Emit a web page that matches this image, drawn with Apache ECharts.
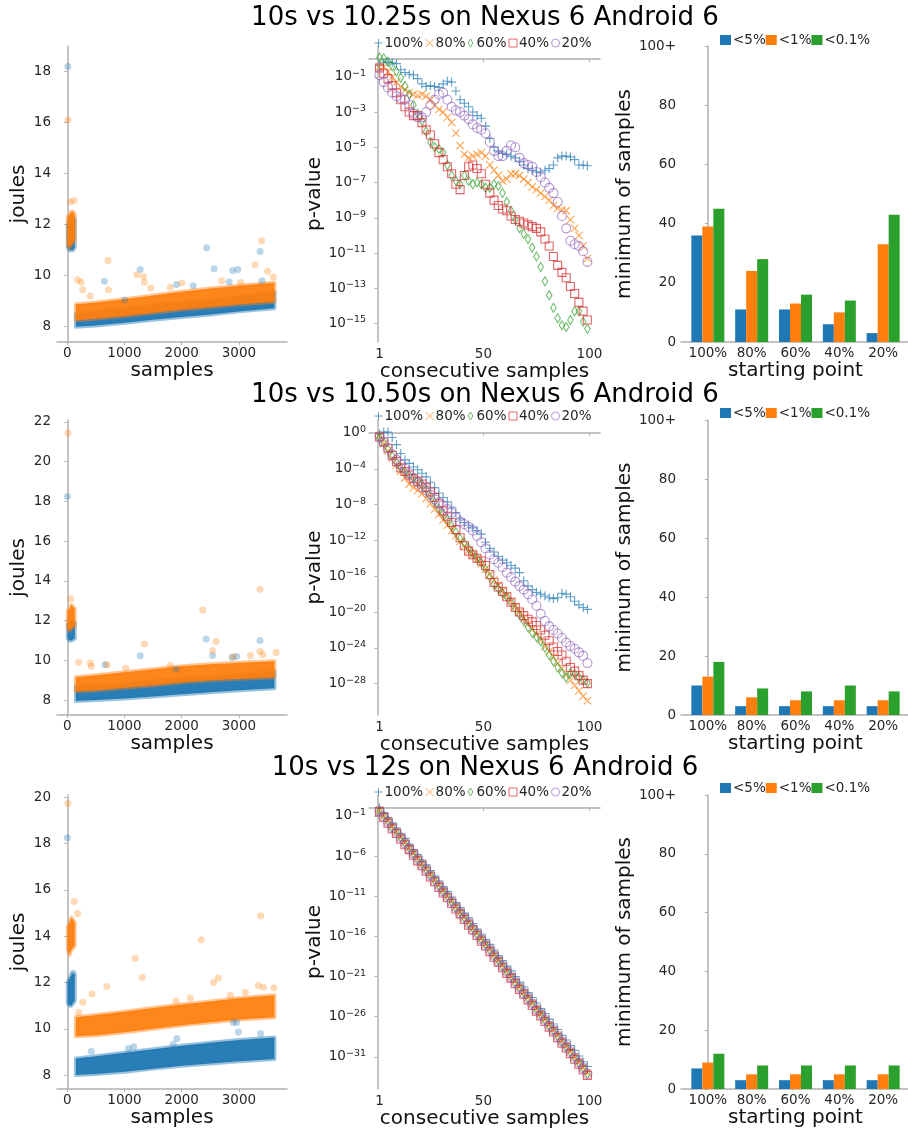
<!DOCTYPE html>
<html><head><meta charset="utf-8">
<script src="https://cdn.jsdelivr.net/npm/echarts@6/dist/echarts.min.js"></script>
<style>html,body{margin:0;padding:0;background:#fff}#c{width:908px;height:1134px}</style>
</head><body><div id="c"></div>
<script>
// ---------------- DATA ----------------
const titles = ['10s vs 10.25s on Nexus 6 Android 6', '10s vs 10.50s on Nexus 6 Android 6', '10s vs 12s on Nexus 6 Android 6'];
const startLabels = ['100%', '80%', '60%', '40%', '20%'];
const thresholdLabels = ['<5%', '<1%', '<0.1%'];

// tick labels
const samplesTicks = [0, 1000, 2000, 3000];
const joulesTicks1 = [8, 10, 12, 14, 16, 18];
const joulesTicks2 = [8, 10, 12, 14, 16, 18, 20, 22];
const joulesTicks3 = [8, 10, 12, 14, 16, 18, 20];
const consecTicks = [1, 50, 100];
const expTicks1 = [-15, -13, -11, -9, -7, -5, -3, -1];
const expTicks2 = [-28, -24, -20, -16, -12, -8, -4, 0];
const expTicks3 = [-31, -26, -21, -16, -11, -6, -1];
const minSamplesTicks = [0, 20, 40, 60, 80, 100];

// joules scatter: dense clouds (read as lower/upper envelopes) + isolated points
const clusterX = [10, 40, 70, 100, 130];
const bandX = [150, 500, 1000, 1500, 2000, 2500, 3000, 3620];

const r1BlueClusterLo = [11.1, 11.0, 11.0, 11.0, 11.1];
const r1BlueClusterHi = [12.0, 12.1, 12.2, 12.3, 12.2];
const r1OrangeClusterLo = [11.2, 11.1, 11.2, 11.3, 11.4];
const r1OrangeClusterHi = [12.3, 12.4, 12.5, 12.5, 12.4];
const r1BlueBandLo = [8.0, 8.05, 8.15, 8.27, 8.38, 8.48, 8.6, 8.72];
const r1BlueBandHi = [8.5, 8.6, 8.72, 8.85, 8.95, 9.05, 9.2, 9.35];
const r1OrangeBandLo = [8.25, 8.32, 8.42, 8.55, 8.67, 8.77, 8.88, 8.98];
const r1OrangeBandHi = [8.88, 8.95, 9.08, 9.22, 9.37, 9.5, 9.6, 9.72];
const r1BlueDots = [[10, 18.2], [650, 9.78], [1274, 10.24], [1910, 9.65], [2437, 11.09], [2565, 10.27], [2890, 10.2], [2980, 10.24], [3370, 10.95], [2830, 9.75], [3400, 9.8], [1000, 9.05], [2200, 9.6]];
const r1OrangeDots = [[10, 16.1], [50, 12.9], [120, 12.95], [710, 10.59], [180, 9.84], [240, 9.74], [270, 9.45], [720, 9.45], [1215, 10.04], [1332, 9.97], [1344, 9.74], [1460, 9.52], [2000, 9.71], [3030, 9.73], [3397, 11.37], [3281, 10.43], [3500, 10.17], [400, 9.2], [1800, 9.55], [2700, 9.8], [3600, 9.95]];

const r2BlueClusterLo = [11.1, 11.0, 11.0, 11.05, 11.1];
const r2BlueClusterHi = [11.8, 11.9, 12.0, 12.0, 11.9];
const r2OrangeClusterLo = [11.6, 11.5, 11.6, 11.7, 11.7];
const r2OrangeClusterHi = [12.5, 12.6, 12.8, 12.7, 12.6];
const r2BlueBandLo = [7.95, 8.0, 8.08, 8.18, 8.3, 8.4, 8.5, 8.6];
const r2BlueBandHi = [8.7, 8.75, 8.85, 9.0, 9.1, 9.2, 9.3, 9.45];
const r2OrangeBandLo = [8.45, 8.5, 8.62, 8.75, 8.9, 9.0, 9.08, 9.15];
const r2OrangeBandHi = [9.15, 9.25, 9.4, 9.55, 9.7, 9.8, 9.88, 9.95];
const r2BlueDots = [[0, 18.25], [2425, 11.08], [3368, 11.0], [1275, 10.23], [2540, 10.25], [2880, 10.15], [2960, 10.2], [660, 9.78], [1900, 9.55]];
const r2OrangeDots = [[10, 21.45], [60, 13.1], [2366, 12.53], [3368, 13.58], [1350, 10.82], [2600, 10.95], [2540, 10.5], [2900, 10.2], [3368, 10.45], [3420, 10.3], [200, 9.9], [400, 9.87], [420, 9.7], [700, 9.78], [1020, 9.6], [3650, 10.4], [1800, 9.75], [3200, 10.25]];

const r3BlueClusterLo = [11.1, 11.0, 11.0, 11.1, 11.2];
const r3BlueClusterHi = [12.0, 12.2, 12.3, 12.4, 12.3];
const r3OrangeClusterLo = [13.4, 13.2, 13.4, 13.5, 13.6];
const r3OrangeClusterHi = [14.4, 14.6, 14.8, 14.7, 14.6];
const r3BlueBandLo = [8.0, 8.05, 8.15, 8.28, 8.4, 8.5, 8.6, 8.7];
const r3BlueBandHi = [8.72, 8.82, 8.97, 9.12, 9.27, 9.4, 9.52, 9.62];
const r3OrangeBandLo = [9.68, 9.72, 9.85, 10.0, 10.15, 10.28, 10.4, 10.5];
const r3OrangeBandHi = [10.5, 10.6, 10.74, 10.9, 11.05, 11.18, 11.32, 11.45];
const r3BlueDots = [[0, 18.25], [100, 12.4], [420, 9.03], [1070, 9.15], [1160, 9.22], [1915, 9.58], [1850, 9.33], [2990, 9.86], [2900, 10.27], [2960, 10.27], [3380, 9.8]];
const r3OrangeDots = [[10, 19.73], [120, 15.5], [180, 14.98], [1187, 13.05], [1310, 12.23], [2340, 13.85], [3380, 14.88], [2555, 12.0], [2640, 12.2], [690, 11.83], [430, 11.5], [270, 11.15], [3340, 11.87], [3430, 11.8], [3110, 11.58], [3610, 11.77], [2150, 11.33], [200, 10.7], [1900, 11.2], [2850, 11.45]];

// p-value curves: x = consecutive samples, values = log10(p-value)
const pX = [1, 3, 5, 7, 9, 11, 13, 15, 17, 19, 21, 23, 25, 27, 29, 31, 33, 35, 37, 39, 41, 43, 45, 47, 49, 51, 53, 55, 57, 59, 61, 63, 65, 67, 69, 71, 73, 75, 77, 79, 81, 83, 85, 87, 89, 91, 93, 95, 97, 99];

const r1P100 = [-0.35, -0.2, -0.15, -0.2, -0.25, -0.6, -0.75, -0.85, -0.9, -1.1, -1.4, -1.55, -1.5, -1.55, -1.6, -1.4, -1.25, -1.3, -1.8, -2.3, -2.5, -2.7, -3.0, -3.2, -3.35, -3.8, -4.5, -5.0, -5.2, -5.35, -5.4, -5.5, -5.6, -5.8, -6.0, -6.2, -6.3, -6.4, -6.4, -6.3, -6.2, -6.0, -5.6, -5.5, -5.5, -5.55, -5.7, -6.0, -6.0, -6.05];
const r1P80 = [-0.45, -0.45, -0.7, -1.0, -1.3, -1.55, -1.75, -1.9, -2.0, -2.05, -2.0, -2.1, -2.3, -2.6, -2.85, -3.0, -3.3, -3.6, -4.2, -4.9, -5.4, -5.6, -5.5, -5.4, -5.3, -5.5, -6.0, -6.3, -6.6, -6.9, -6.8, -6.5, -6.5, -6.6, -6.8, -7.0, -7.25, -7.4, -7.6, -7.8, -8.0, -8.3, -8.45, -8.55, -8.6, -9.1, -9.6, -10.0, -10.6, -11.3];
const r1P60 = [0.1, 0.05, -0.15, -0.4, -0.7, -1.05, -1.5, -2.0, -2.6, -3.1, -3.5, -4.1, -4.7, -5.0, -5.1, -5.3, -6.0, -6.6, -6.9, -7.1, -6.6, -6.9, -7.1, -7.0, -7.1, -7.3, -7.3, -7.1, -7.2, -7.6, -8.1, -8.6, -9.1, -9.6, -9.9, -10.2, -10.7, -11.2, -11.8, -12.6, -13.4, -14.1, -14.7, -15.1, -15.2, -14.8, -14.3, -14.3, -14.9, -15.3];
const r1P40 = [-0.5, -0.8, -1.1, -1.5, -1.9, -2.3, -2.7, -3.0, -3.2, -3.2, -3.6, -4.0, -4.3, -4.8, -5.3, -5.7, -6.1, -6.5, -7.1, -7.4, -6.6, -6.1, -6.0, -6.2, -6.5, -7.1, -7.6, -8.0, -8.3, -8.5, -8.6, -8.9, -9.1, -9.2, -9.3, -9.4, -9.5, -9.6, -9.8, -10.2, -10.6, -11.2, -11.7, -12.1, -12.4, -12.9, -13.3, -13.8, -14.3, -14.8];
const r1P20 = [-0.9, -1.3, -1.6, -1.9, -2.1, -2.2, -2.3, -2.6, -3.1, -3.3, -3.3, -3.0, -2.6, -2.3, -2.0, -1.9, -2.3, -2.7, -2.9, -3.0, -3.2, -3.4, -3.7, -3.9, -4.0, -4.2, -4.7, -5.2, -5.5, -5.5, -5.2, -4.9, -5.0, -5.6, -5.9, -6.0, -6.1, -6.4, -6.7, -7.0, -7.3, -7.6, -8.1, -8.9, -9.6, -10.3, -10.5, -10.6, -10.9, -11.5];

const r2P100 = [-0.1, 0.1, 0.1, -0.5, -1.3, -2.3, -3.0, -3.4, -3.8, -4.1, -4.5, -4.9, -5.5, -6.1, -6.7, -7.2, -7.7, -8.3, -8.9, -9.6, -10.0, -10.3, -10.6, -10.9, -11.3, -12.2, -12.9, -13.3, -13.8, -14.2, -14.5, -14.8, -15.1, -15.6, -16.5, -17.1, -17.5, -17.8, -18.0, -18.2, -18.4, -18.5, -18.4, -17.9, -18.0, -18.3, -18.8, -19.2, -19.5, -19.7];
const r2P80 = [-0.3, -1.2, -2.0, -2.8, -3.6, -4.3, -5.0, -5.7, -6.1, -6.4, -6.8, -7.3, -7.9, -8.5, -9.1, -9.7, -10.3, -10.9, -11.5, -12.1, -12.6, -13.1, -13.6, -14.1, -14.6, -15.2, -15.8, -16.4, -17.0, -17.6, -18.2, -18.8, -19.4, -20.0, -20.7, -21.3, -21.9, -22.5, -23.1, -23.8, -24.4, -25.0, -25.7, -26.3, -27.0, -27.6, -28.2, -28.8, -29.4, -29.9];
const r2P60 = [-0.5, -1.1, -1.8, -2.6, -3.3, -3.9, -4.3, -4.7, -5.0, -5.3, -5.7, -6.3, -7.0, -7.7, -8.4, -9.0, -9.7, -10.4, -11.1, -11.8, -12.3, -12.9, -13.5, -14.0, -14.5, -15.2, -16.1, -16.9, -17.4, -17.9, -18.3, -18.9, -19.6, -20.3, -21.0, -21.7, -22.3, -22.8, -23.3, -24.0, -24.8, -25.5, -26.2, -26.8, -27.3, -26.8, -26.9, -27.3, -27.6, -27.9];
const r2P40 = [-0.45, -1.0, -1.7, -2.5, -3.2, -3.9, -4.3, -4.7, -5.1, -5.4, -5.7, -6.1, -6.6, -7.2, -7.9, -8.7, -9.3, -10.0, -10.8, -11.7, -12.6, -13.2, -13.6, -14.0, -14.3, -14.8, -15.8, -16.7, -17.2, -17.7, -18.3, -18.9, -19.5, -20.0, -20.4, -20.8, -21.1, -21.5, -22.0, -22.6, -23.2, -23.9, -24.4, -24.8, -25.5, -26.2, -26.6, -27.1, -27.6, -28.0];
const r2P20 = [-0.4, -1.0, -1.7, -2.4, -3.0, -3.5, -4.0, -4.5, -5.0, -5.5, -6.0, -6.4, -6.9, -7.4, -7.8, -8.1, -8.5, -8.9, -9.4, -9.9, -10.2, -10.5, -10.9, -11.5, -12.2, -12.9, -13.6, -14.1, -14.5, -15.0, -15.6, -16.1, -16.6, -17.1, -17.5, -18.0, -18.6, -19.3, -20.2, -21.0, -21.6, -22.0, -22.4, -22.9, -23.4, -23.8, -24.1, -24.5, -24.9, -25.7];

const r3P100 = [0.0, -0.6, -1.2, -1.9, -2.5, -3.2, -3.8, -4.5, -5.2, -5.8, -6.5, -7.1, -7.8, -8.5, -9.1, -9.8, -10.4, -11.1, -11.8, -12.4, -13.1, -13.7, -14.4, -15.1, -15.7, -16.4, -17.0, -17.7, -18.4, -19.0, -19.7, -20.3, -21.0, -21.7, -22.3, -23.0, -23.6, -24.3, -25.0, -25.6, -26.3, -26.9, -27.6, -28.3, -28.9, -29.6, -30.2, -30.9, -31.6, -32.2];
const r3P80 = [-0.3, -1.0, -1.6, -2.3, -3.0, -3.6, -4.3, -5.0, -5.6, -6.3, -7.0, -7.6, -8.3, -9.0, -9.6, -10.3, -11.0, -11.6, -12.3, -13.0, -13.6, -14.3, -15.0, -15.6, -16.3, -17.0, -17.6, -18.3, -19.0, -19.6, -20.3, -21.0, -21.6, -22.3, -23.0, -23.6, -24.3, -25.0, -25.6, -26.3, -27.0, -27.6, -28.3, -29.0, -29.6, -30.3, -31.0, -31.6, -32.3, -33.0];
const r3P60 = [-0.4, -1.0, -1.7, -2.4, -3.0, -3.7, -4.4, -5.0, -5.7, -6.4, -7.0, -7.7, -8.4, -9.0, -9.7, -10.4, -11.0, -11.7, -12.4, -13.0, -13.7, -14.4, -15.0, -15.7, -16.4, -17.0, -17.7, -18.4, -19.0, -19.7, -20.4, -21.0, -21.7, -22.4, -23.0, -23.7, -24.4, -25.1, -25.7, -26.4, -27.1, -27.7, -28.4, -29.1, -29.7, -30.4, -31.1, -31.7, -32.4, -33.1];
const r3P40 = [-0.5, -1.2, -1.9, -2.6, -3.2, -3.9, -4.6, -5.2, -5.9, -6.6, -7.2, -7.9, -8.6, -9.2, -9.9, -10.6, -11.2, -11.9, -12.6, -13.2, -13.9, -14.6, -15.2, -15.9, -16.6, -17.2, -17.9, -18.6, -19.2, -19.9, -20.6, -21.2, -21.9, -22.6, -23.2, -23.9, -24.6, -25.3, -25.9, -26.6, -27.3, -27.9, -28.6, -29.3, -29.9, -30.6, -31.3, -31.9, -32.6, -33.3];
const r3P20 = [-0.4, -1.1, -1.7, -2.4, -3.1, -3.7, -4.4, -5.1, -5.7, -6.4, -7.1, -7.7, -8.4, -9.1, -9.7, -10.4, -11.1, -11.7, -12.4, -13.1, -13.7, -14.4, -15.1, -15.7, -16.4, -17.1, -17.7, -18.4, -19.1, -19.7, -20.4, -21.1, -21.7, -22.4, -23.1, -23.7, -24.4, -25.1, -25.7, -26.4, -27.1, -27.7, -28.4, -29.1, -29.7, -30.4, -31.1, -31.7, -32.4, -33.1];

// minimum of samples bars
const r1Bar5 = [36, 11, 11, 6, 3];
const r1Bar1 = [39, 24, 13, 10, 33];
const r1Bar01 = [45, 28, 16, 14, 43];
const r2Bar5 = [10, 3, 3, 3, 3];
const r2Bar1 = [13, 6, 5, 5, 5];
const r2Bar01 = [18, 9, 8, 10, 8];
const r3Bar5 = [7, 3, 3, 3, 3];
const r3Bar1 = [9, 5, 5, 5, 5];
const r3Bar01 = [12, 8, 8, 8, 8];

// ---------------- BUILD ----------------
const FONT = 'DejaVu Sans';
const C = ['#1f77b4', '#ff7f0e', '#2ca02c', '#d62728', '#9467bd'];
const AX = '#b0b0b0';
const TXT = '#262626';
function rgba(hex, a) { const n = parseInt(hex.slice(1), 16); return 'rgba(' + (n >> 16 & 255) + ',' + (n >> 8 & 255) + ',' + (n & 255) + ',' + a + ')'; }
function supExp(v) { return '10{s|' + (v < 0 ? '\u2212' + (-v) : String(v)) + '}'; }
function plain(v) { return String(v); }

const rowTop = [46, 420, 795], rowH = [296, 295, 294];
const colLeft = [57, 369, 681], colW = [230, 231, 229];
const titleTop = [5, 382, 755];
const legTop = [36, 409, 785];
const barLegTop = [33, 406, 781];

const leftData = [
  { bcl: r1BlueClusterLo, bch: r1BlueClusterHi, ocl: r1OrangeClusterLo, och: r1OrangeClusterHi, bbl: r1BlueBandLo, bbh: r1BlueBandHi, obl: r1OrangeBandLo, obh: r1OrangeBandHi, bd: r1BlueDots, od: r1OrangeDots, ticks: joulesTicks1, min: 7.4, max: 19.0 },
  { bcl: r2BlueClusterLo, bch: r2BlueClusterHi, ocl: r2OrangeClusterLo, och: r2OrangeClusterHi, bbl: r2BlueBandLo, bbh: r2BlueBandHi, obl: r2OrangeBandLo, obh: r2OrangeBandHi, bd: r2BlueDots, od: r2OrangeDots, ticks: joulesTicks2, min: 7.25, max: 22.1 },
  { bcl: r3BlueClusterLo, bch: r3BlueClusterHi, ocl: r3OrangeClusterLo, och: r3OrangeClusterHi, bbl: r3BlueBandLo, bbh: r3BlueBandHi, obl: r3OrangeBandLo, obh: r3OrangeBandHi, bd: r3BlueDots, od: r3OrangeDots, ticks: joulesTicks3, min: 7.4, max: 20.1 }
];
const midData = [
  { s: [r1P100, r1P80, r1P60, r1P40, r1P20], ticks: expTicks1, min: -16.05, max: 0.75 },
  { s: [r2P100, r2P80, r2P60, r2P40, r2P20], ticks: expTicks2, min: -31.5, max: 1.45 },
  { s: [r3P100, r3P80, r3P60, r3P40, r3P20], ticks: expTicks3, min: -35.0, max: 1.6 }
];
const barData = [[r1Bar5, r1Bar1, r1Bar01], [r2Bar5, r2Bar1, r2Bar01], [r3Bar5, r3Bar1, r3Bar01]];

const SYM = [
  { symbol: 'path://M0,5L10,5M5,0L5,10', size: 9 },
  { symbol: 'path://M0,0L10,10M10,0L0,10', size: 7.5 },
  { symbol: 'path://M3,0L6,5L3,10L0,5Z', size: [5.5, 9] },
  { symbol: 'rect', size: 8 },
  { symbol: 'circle', size: 9 }
];

const grids = [], xAxes = [], yAxes = [], series = [], legends = [], titleOpt = [];

function baseAxis(extra) {
  return Object.assign({
    axisLine: { show: true, lineStyle: { color: AX, width: 1.5 } },
    splitLine: { show: false },
    nameLocation: 'middle',
    nameTextStyle: { color: '#111', fontSize: 20, fontFamily: FONT }
  }, extra);
}
function ticks(vals) { return { show: true, length: 3, customValues: vals, lineStyle: { color: AX, width: 1 } }; }

function band(gi, xs, lo, hi, color) {
  return {
    type: 'custom', xAxisIndex: gi, yAxisIndex: gi, silent: true, clip: true,
    data: [[xs[0], lo[0]]],
    renderItem: function (params, api) {
      const pts = [];
      for (let i = 0; i < xs.length; i++) pts.push(api.coord([xs[i], hi[i]]));
      for (let i = xs.length - 1; i >= 0; i--) pts.push(api.coord([xs[i], lo[i]]));
      return { type: 'polygon', shape: { points: pts }, style: { fill: rgba(color, 0.95), stroke: rgba(color, 0.45), lineWidth: 4, lineJoin: 'round' } };
    }
  };
}
function dots(gi, pts, color) {
  return { type: 'scatter', xAxisIndex: gi, yAxisIndex: gi, silent: true, data: pts, symbolSize: 7, itemStyle: { color: color, opacity: 0.3 } };
}

for (let r = 0; r < 3; r++) {
  titleOpt.push({ text: titles[r], left: 485, textAlign: 'center', top: titleTop[r], padding: 0, textStyle: { fontSize: 26, fontWeight: 'normal', color: '#000', fontFamily: FONT } });
  for (let c = 0; c < 3; c++) {
    grids.push({ left: colLeft[c], top: rowTop[r], width: colW[c], height: rowH[r], containLabel: false, outerBoundsMode: 'none' });
  }
  // ---- left: joules scatter
  const L = leftData[r], g0 = r * 3;
  xAxes.push(baseAxis({ gridIndex: g0, type: 'value', min: -180, max: 3840, name: 'samples', nameGap: 19,
    axisLabel: { customValues: samplesTicks, color: TXT, fontSize: 13.5, fontFamily: FONT, margin: 4, formatter: plain },
    axisTick: ticks(samplesTicks) }));
  yAxes.push(baseAxis({ gridIndex: g0, type: 'value', min: L.min, max: L.max, name: 'joules', nameGap: 28,
    axisLabel: { customValues: L.ticks, color: TXT, fontSize: 13.5, fontFamily: FONT, margin: 6, formatter: plain },
    axisTick: ticks(L.ticks) }));
  series.push(band(g0, clusterX, L.bcl, L.bch, C[0]));
  series.push(band(g0, bandX, L.bbl, L.bbh, C[0]));
  series.push(dots(g0, L.bd, C[0]));
  series.push(band(g0, clusterX, L.ocl, L.och, C[1]));
  series.push(band(g0, bandX, L.obl, L.obh, C[1]));
  series.push(dots(g0, L.od, C[1]));

  // ---- middle: p-value
  const M = midData[r], g1 = r * 3 + 1;
  xAxes.push(baseAxis({ gridIndex: g1, type: 'value', min: -3.95, max: 104.95, name: 'consecutive samples', nameGap: 20,
    axisLabel: { customValues: consecTicks, color: TXT, fontSize: 13.5, fontFamily: FONT, margin: 5, formatter: plain },
    axisTick: ticks(consecTicks) }));
  yAxes.push(baseAxis({ gridIndex: g1, type: 'value', min: M.min, max: M.max, name: 'p-value', nameGap: 43,
    axisLabel: { customValues: M.ticks, color: TXT, fontSize: 13.5, fontFamily: FONT, margin: 3, formatter: supExp,
      rich: { s: { fontSize: 9.5, color: TXT, fontFamily: FONT, verticalAlign: 'top', padding: [0, 0, 7, 0] } } },
    axisTick: ticks(M.ticks) }));
  for (let k = 0; k < 5; k++) {
    series.push({ type: 'scatter', name: startLabels[k], xAxisIndex: g1, yAxisIndex: g1, silent: true,
      symbol: SYM[k].symbol, symbolSize: SYM[k].size,
      data: pX.map((x, i) => [x, M.s[k][i]]),
      itemStyle: { color: 'none', borderColor: C[k], borderWidth: 1.1, opacity: 0.7 } });
  }
  legends.push({ left: 372, top: legTop[r], orient: 'horizontal', padding: 0, itemGap: 0, itemWidth: 8, itemHeight: 8,
    data: startLabels, selectedMode: false,
    itemStyle: { borderWidth: 1 },
    textStyle: { fontSize: 13.5, color: TXT, fontFamily: FONT, padding: [0, 0, 0, -3] } });

  // ---- right: bars
  const B = barData[r], g2 = r * 3 + 2;
  xAxes.push(baseAxis({ gridIndex: g2, type: 'value', min: -0.6125, max: 4.6125, name: 'starting point', nameGap: 19,
    axisLabel: { customValues: [0, 1, 2, 3, 4], color: TXT, fontSize: 13.5, fontFamily: FONT, margin: 4, formatter: v => startLabels[Math.round(v)] },
    axisTick: { show: false } }));
  yAxes.push(baseAxis({ gridIndex: g2, type: 'value', min: 0, max: 100, name: 'minimum of samples', nameGap: 45,
    axisLabel: { customValues: minSamplesTicks, color: TXT, fontSize: 13.5, fontFamily: FONT, margin: 5, formatter: v => (v === 100 ? '100+' : String(v)) },
    axisTick: ticks(minSamplesTicks) }));
  for (let k = 0; k < 3; k++) {
    series.push({ type: 'bar', name: thresholdLabels[k], xAxisIndex: g2, yAxisIndex: g2, silent: true,
      barWidth: 11, barGap: '0%', data: startLabels.map((_, i) => [i, B[k][i]]),
      itemStyle: { color: C[k] } });
  }
  legends.push({ left: 720, top: barLegTop[r], orient: 'horizontal', padding: 0, itemGap: 0, itemWidth: 11, itemHeight: 10,
    icon: 'rect', data: thresholdLabels, selectedMode: false,
    textStyle: { fontSize: 13.5, color: TXT, fontFamily: FONT, padding: [0, 0, 0, -3] } });
}

const chart = echarts.init(document.getElementById('c'), null, { renderer: 'canvas' });
chart.setOption({
  animation: false,
  backgroundColor: '#fff',
  textStyle: { fontFamily: FONT },
  title: titleOpt,
  grid: grids,
  xAxis: xAxes,
  yAxis: yAxes,
  legend: legends,
  series: series
});
</script></body></html>
